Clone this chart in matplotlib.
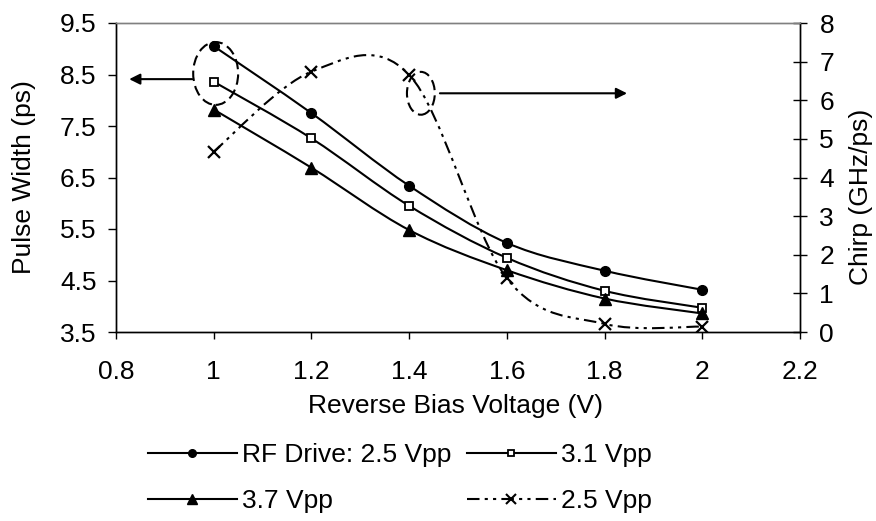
import numpy as np
import matplotlib
matplotlib.use("Agg")
import matplotlib.pyplot as plt
from matplotlib.path import Path
from matplotlib.patches import PathPatch, Ellipse
from matplotlib.lines import Line2D
from matplotlib.ticker import FuncFormatter

plt.rcParams['font.family'] = ['Liberation Sans', 'DejaVu Sans']

# ---- data ----
bias_v = [1.0, 1.2, 1.4, 1.6, 1.8, 2.0]
pw_25 = [9.05, 7.75, 6.34, 5.23, 4.69, 4.32]
pw_31 = [8.36, 7.26, 5.95, 4.94, 4.30, 3.97]
pw_37 = [7.82, 6.69, 5.48, 4.70, 4.15, 3.86]
chirp_25 = [4.67, 6.74, 6.66, 1.39, 0.21, 0.14]

labels = ["RF Drive: 2.5 Vpp", "3.1 Vpp", "3.7 Vpp", "2.5 Vpp"]
x_ticks = [0.8, 1.0, 1.2, 1.4, 1.6, 1.8, 2.0, 2.2]
pw_ticks = [3.5, 4.5, 5.5, 6.5, 7.5, 8.5, 9.5]
chirp_ticks = [0, 1, 2, 3, 4, 5, 6, 7, 8]

FS = 19
W, H = 876, 521
fig = plt.figure(figsize=(W / 100, H / 100), dpi=100)
ax = fig.add_axes([116 / W, 1 - 332 / H, 684 / W, 309 / H])
ax2 = ax.twinx()


def smooth_path(x, y):
    pts = np.column_stack([x, y]).astype(float)
    n = len(pts)
    verts = [pts[0]]
    codes = [Path.MOVETO]
    for i in range(n - 1):
        p0 = pts[i - 1] if i > 0 else pts[i]
        p1 = pts[i]
        p2 = pts[i + 1]
        p3 = pts[i + 2] if i + 2 < n else pts[i + 1]
        c1 = p1 + (p2 - p0) / 6.0
        c2 = p2 - (p3 - p1) / 6.0
        verts += [c1, c2, p2]
        codes += [Path.CURVE4] * 3
    return Path(verts, codes)


chirp_ls = (0, (6, 2.5, 1.5, 2.5, 1.5, 2.5))
LW = 1.5

for yv in (pw_25, pw_31, pw_37):
    ax.add_patch(PathPatch(smooth_path(bias_v, yv), fill=False, lw=LW,
                           edgecolor='black', zorder=2))
ax.plot(bias_v, pw_25, ls='none', marker='o', ms=7, color='black', zorder=3)
ax.plot(bias_v, pw_31, ls='none', marker='s', ms=6, mfc='white', mec='black',
        mew=1.3, zorder=3)
ax.plot(bias_v, pw_37, ls='none', marker='^', ms=8.5, color='black', zorder=3)

ax2.add_patch(PathPatch(smooth_path(bias_v, chirp_25), fill=False, lw=LW,
                        edgecolor='black', linestyle=chirp_ls, zorder=2))
ax2.plot(bias_v, chirp_25, ls='none', marker='x', ms=8, mew=1.6,
         color='black', zorder=3)

# axes limits/ticks
ax.set_xlim(0.8, 2.2)
ax.set_ylim(3.5, 9.5)
ax2.set_ylim(0, 8)
ax.set_xticks(x_ticks)
ax.xaxis.set_major_formatter(FuncFormatter(lambda v, p: f"{v:g}"))
ax.set_yticks(pw_ticks)
ax.yaxis.set_major_formatter(FuncFormatter(lambda v, p: f"{v:.1f}"))
ax2.set_yticks(chirp_ticks)

ax.tick_params(axis='x', direction='out', length=5, width=1, pad=15,
               labelsize=FS)
ax.tick_params(axis='y', direction='out', length=6, width=1, pad=8,
               labelsize=FS)
ax2.tick_params(axis='y', direction='inout', length=10, width=1, pad=9,
                labelsize=FS)

for a in (ax, ax2):
    for s in a.spines.values():
        s.set_linewidth(1.0)
    a.spines['top'].set_color('#808080')
    a.set_facecolor('none')

# annotations: ellipses and arrows
ell_left = (1.004, 8.52, 0.092, 1.22)
ell_right = (1.424, 6.18, 0.057, 1.11)
arr_left = ((0.956, 8.41), (0.827, 8.41))
arr_right = ((1.463, 6.18), (1.846, 6.18))

ax.add_patch(Ellipse(ell_left[:2], ell_left[2], ell_left[3], fill=False,
                     lw=1.5, ls=(0, (5, 2.5)), edgecolor='black', zorder=4))
ax2.add_patch(Ellipse(ell_right[:2], ell_right[2], ell_right[3], fill=False,
                      lw=1.5, ls=(0, (5, 2.5)), edgecolor='black', zorder=4))
ax.annotate('', xy=arr_left[1], xytext=arr_left[0],
            arrowprops=dict(arrowstyle='-|>', lw=1.5, color='black',
                            mutation_scale=16, shrinkA=0, shrinkB=0))
ax2.annotate('', xy=arr_right[1], xytext=arr_right[0],
             arrowprops=dict(arrowstyle='-|>', lw=1.5, color='black',
                             mutation_scale=16, shrinkA=0, shrinkB=0))

# axis labels
fig.text(456 / W, 1 - 394 / H, "Reverse Bias Voltage (V)", fontsize=FS,
         ha='center', va='top')
fig.text(24 / W, 1 - 177.5 / H, "Pulse Width (ps)", fontsize=FS,
         rotation=90, ha='center', va='center')
fig.text(861 / W, 1 - 197 / H, "Chirp (GHz/ps)", fontsize=FS,
         rotation=90, ha='center', va='center')

# legend
h25 = Line2D([], [], color='black', lw=LW, marker='o', ms=5.5)
h31 = Line2D([], [], color='black', lw=LW, marker='s', ms=5, mfc='white',
             mew=1.3)
h37 = Line2D([], [], color='black', lw=LW, marker='^', ms=7)
hch = Line2D([], [], color='black', lw=LW, ls=chirp_ls, marker='x', ms=7,
             mew=1.5)
fig.legend([h25, h37, h31, hch], [labels[0], labels[2], labels[1], labels[3]],
           ncol=2, loc='upper left', bbox_to_anchor=(148 / W, 1 - 443 / H),
           frameon=False, fontsize=FS, borderpad=0, borderaxespad=0,
           handlelength=3.37, handletextpad=0.2, columnspacing=0.57,
           labelspacing=0.85)

fig.savefig("out.png", dpi=100)
